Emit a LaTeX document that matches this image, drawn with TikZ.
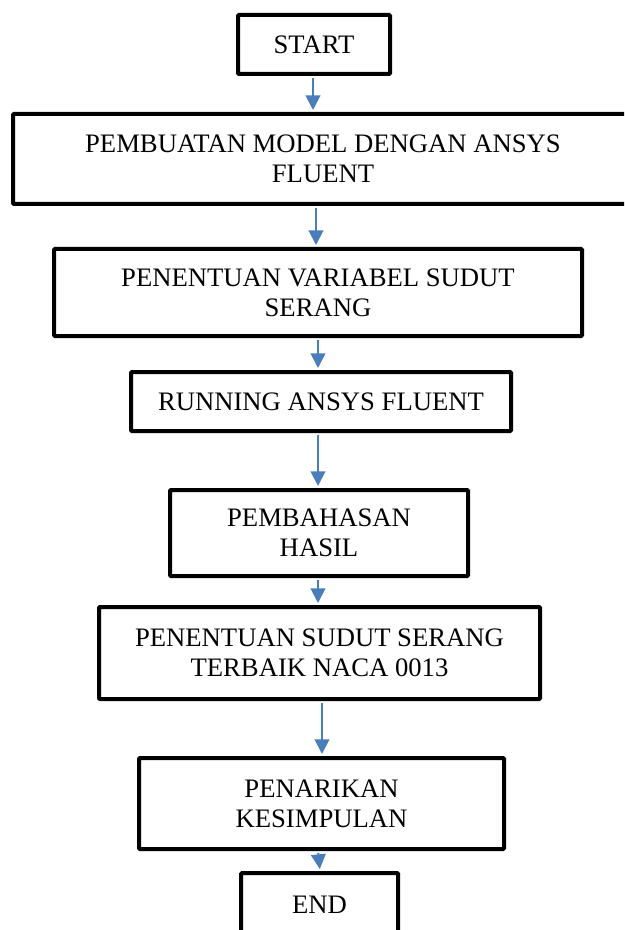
\documentclass[tikz,border=0pt]{standalone}
\usepackage{fontspec}
\setmainfont{Liberation Serif}
\usetikzlibrary{arrows.meta}
\definecolor{arrblue}{HTML}{4A7EBB}
\tikzset{
  box/.style={draw=black, line width=3pt, rounded corners=0.8pt, fill=white,
    align=center, inner sep=0pt, font=\fontsize{20pt}{22.5pt}\selectfont},
  arr/.style={draw=arrblue, line width=1.5pt, shorten <=1.5pt, shorten >=1.5pt,
    -{Triangle[length=11pt,width=11pt]}}
}
\begin{document}
\begin{tikzpicture}[x=0.75pt,y=-0.75pt]
\useasboundingbox (0,0) rectangle (624,930);
\clip (0,0) rectangle (624,930);
\fill[white] (0,0) rectangle (624,930);
\node[box, minimum width=114pt, minimum height=44.25pt] (n1) at (314,44.5) {START};
\node[box, minimum width=465pt, minimum height=67.5pt] (n2) at (323,159) {PEMBUATAN MODEL DENGAN ANSYS\\FLUENT};
\node[box, minimum width=396pt, minimum height=65.25pt] (n3) at (318,292.5) {PENENTUAN VARIABEL SUDUT\\SERANG};
\node[box, minimum width=285pt, minimum height=44.25pt] (n4) at (321,401.5) {RUNNING ANSYS FLUENT};
\node[box, minimum width=223.5pt, minimum height=64.5pt] (n5) at (319,533) {PEMBAHASAN\\HASIL};
\node[box, minimum width=330.75pt, minimum height=69pt] (n6) at (319.5,653) {PENENTUAN SUDUT SERANG\\TERBAIK NACA 0013};
\node[box, minimum width=273.75pt, minimum height=68.25pt] (n7) at (321.5,803.5) {PENARIKAN\\KESIMPULAN};
\node[box, minimum width=117.75pt, minimum height=47.25pt] (n8) at (319.5,904.5) {END};
\coordinate (x1) at (313,0);
\coordinate (x2) at (316,0);
\coordinate (x3) at (318,0);
\coordinate (x4) at (318,0);
\coordinate (x5) at (318,0);
\coordinate (x6) at (322,0);
\coordinate (x7a) at (318,0);
\coordinate (x7b) at (320,0);
\draw[arr] (n1.south -| x1) -- (n2.north -| x1);
\draw[arr] (n2.south -| x2) -- (n3.north -| x2);
\draw[arr] (n3.south -| x3) -- (n4.north -| x3);
\draw[arr] (n4.south -| x4) -- (n5.north -| x4);
\draw[arr] (n5.south -| x5) -- (n6.north -| x5);
\draw[arr] (n6.south -| x6) -- (n7.north -| x6);
\draw[arr] (n7.south -| x7a) -- (n8.north -| x7b);
\end{tikzpicture}
\end{document}
